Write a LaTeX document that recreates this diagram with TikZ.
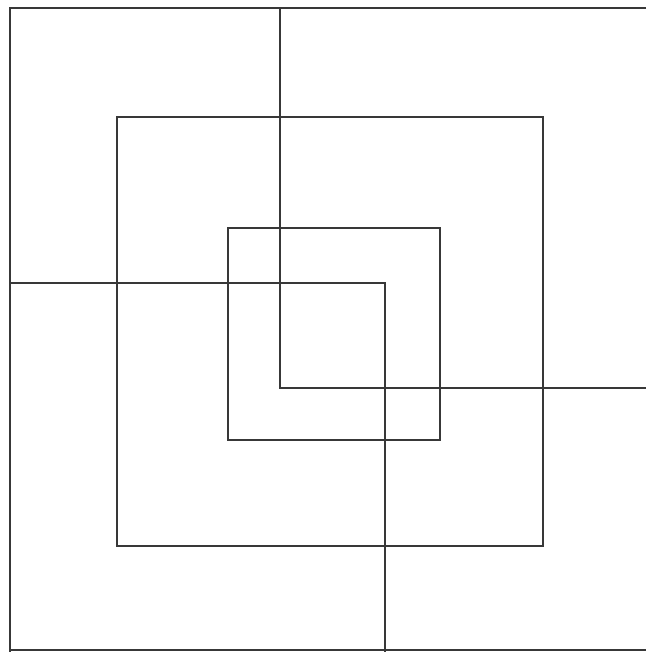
\documentclass[tikz,border=0pt]{standalone}
\usepackage{tikz}

\begin{document}
\begin{tikzpicture}[x=0.02cm, y=-0.02cm, stroke/.style={line width=1.6pt, draw=black!78, line join=miter}]
\useasboundingbox (0,0) rectangle (646,652);
% outer frame, open on the right
\draw[stroke] (646,8) -- (10,8) -- (10,652);
\draw[stroke] (10,650) -- (646,650);
% the two broken arms through the middle
\coordinate (top)   at (280,8);
\coordinate (kneeA) at (280,388);
\coordinate (right) at (646,388);
\coordinate (left)  at (10,283);
\coordinate (kneeB) at (385,283);
\coordinate (foot)  at (385,652);
\draw[stroke] (top) -- (kneeA) -- (right);
\draw[stroke] (left) -- (kneeB) -- (foot);
% middle and inner squares
\draw[stroke] (117,117) rectangle (543,546);
\draw[stroke] (228,228) rectangle (440,440);
\end{tikzpicture}
\end{document}
